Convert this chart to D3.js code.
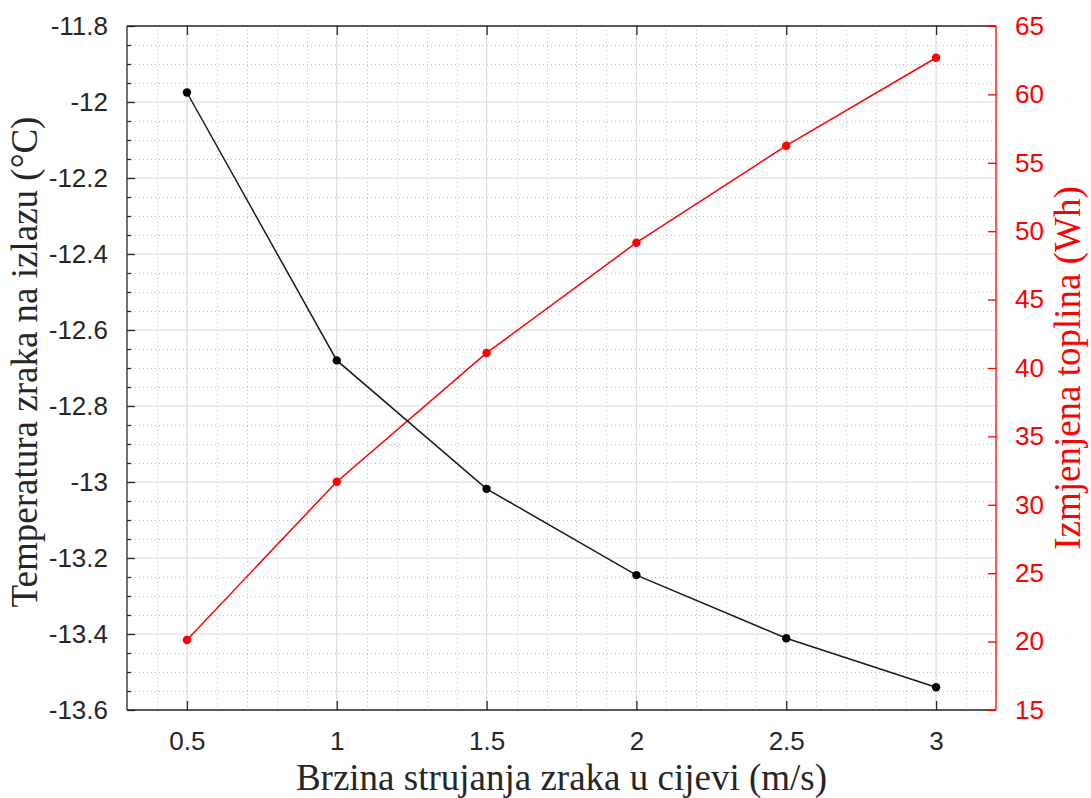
<!DOCTYPE html>
<html>
<head>
<meta charset="utf-8">
<script src="https://cdn.jsdelivr.net/npm/d3@7"></script>
<style>
  body { margin:0; background:#fff; }
  svg { display:block; }
  .tick text { font-family:"Liberation Sans", Arial, sans-serif; font-size:26px; }
  .lbl { font-family:"Liberation Serif", "Times New Roman", serif; font-size:37px; }
</style>
</head>
<body>
<div id="chart"></div>
<script>
// brzina strujanja (m/s)
var speed     = [0.5, 1, 1.5, 2, 2.5, 3];
// temperatura zraka na izlazu (°C)
var tempOut   = [-11.975, -12.68, -13.018, -13.245, -13.411, -13.54];
// izmjenjena toplina (Wh)
var heat      = [20.12, 31.69, 41.1, 49.16, 56.25, 62.68];

var xTicks    = [0.5, 1, 1.5, 2, 2.5, 3];
var yTicks    = [-11.8, -12, -12.2, -12.4, -12.6, -12.8, -13, -13.2, -13.4, -13.6];
var y2Ticks   = [15, 20, 25, 30, 35, 40, 45, 50, 55, 60, 65];

var W = 1091, H = 798;
var pL = 127, pR = 996, pT = 26, pB = 710;
var axisCol = "#262626", red = "#ff0000";

var svg = d3.select("#chart").append("svg").attr("width", W).attr("height", H);

var x  = d3.scaleLinear().domain([0.3, 3.2]).range([pL, pR]);
var y  = d3.scaleLinear().domain([-13.6, -11.8]).range([pB, pT]);
var y2 = d3.scaleLinear().domain([15, 65]).range([pB, pT]);

// minor grid (dotted)
var xMinor = d3.range(4, 32).map(function(d){ return d/10; }).filter(function(d){ return Math.abs(d*2 - Math.round(d*2)) > 1e-6; });
var yMinor = d3.range(0, 37).map(function(d){ return -11.8 - d*0.05; }).filter(function(d){ return Math.abs(d*5 - Math.round(d*5)) > 1e-6; });

var grid = svg.append("g");
grid.selectAll(".xm").data(xMinor).enter().append("line")
  .attr("x1", function(d){ return Math.round(x(d))+0.5; })
  .attr("x2", function(d){ return Math.round(x(d))+0.5; })
  .attr("y1", pT).attr("y2", pB)
  .attr("stroke", "#bdbdbd").attr("stroke-width", 1).attr("stroke-dasharray", "1,3");
grid.selectAll(".ym").data(yMinor).enter().append("line")
  .attr("y1", function(d){ return Math.round(y(d))+0.5; })
  .attr("y2", function(d){ return Math.round(y(d))+0.5; })
  .attr("x1", pL).attr("x2", pR)
  .attr("stroke", "#bdbdbd").attr("stroke-width", 1).attr("stroke-dasharray", "1,3");
// major grid
grid.selectAll(".xM").data(xTicks).enter().append("line")
  .attr("x1", function(d){ return x(d); }).attr("x2", function(d){ return x(d); })
  .attr("y1", pT).attr("y2", pB)
  .attr("stroke", "#dcdcdc").attr("stroke-width", 1.2);
grid.selectAll(".yM").data(yTicks).enter().append("line")
  .attr("y1", function(d){ return y(d); }).attr("y2", function(d){ return y(d); })
  .attr("x1", pL).attr("x2", pR)
  .attr("stroke", "#dcdcdc").attr("stroke-width", 1.2);

// axes
var fmt = function(d){ return String(+d.toFixed(2)); };

var xAxis = svg.append("g").attr("transform", "translate(0," + pB + ")")
  .call(d3.axisBottom(x).tickValues(xTicks).tickSize(-9).tickPadding(22).tickFormat(fmt));
var xTop = svg.append("g").attr("transform", "translate(0," + pT + ")")
  .call(d3.axisTop(x).tickValues(xTicks).tickSize(-9).tickFormat(""));
var yAxis = svg.append("g").attr("transform", "translate(" + pL + ",0)")
  .call(d3.axisLeft(y).tickValues(yTicks).tickSize(-8).tickPadding(19).tickFormat(fmt));
var yMinorTicks = svg.append("g").attr("transform", "translate(" + pL + ",0)")
  .call(d3.axisLeft(y).tickValues(yMinor).tickSize(-4).tickFormat(""));
var y2Axis = svg.append("g").attr("transform", "translate(" + pR + ",0)")
  .call(d3.axisRight(y2).tickValues(y2Ticks).tickSize(-8).tickPadding(19).tickFormat(d3.format("d")));

[xAxis, xTop, yAxis, yMinorTicks].forEach(function(g){
  g.select(".domain").attr("stroke", axisCol).attr("stroke-width", 1.3);
  g.selectAll(".tick line").attr("stroke", axisCol).attr("stroke-width", 1.3);
  g.selectAll(".tick text").attr("fill", axisCol);
});
xTop.select(".domain").attr("d", "M" + pL + ",0H" + pR);
xAxis.select(".domain").attr("d", "M" + pL + ",0H" + pR);
yAxis.select(".domain").attr("d", "M0," + pT + "V" + pB);
yMinorTicks.select(".domain").remove();
y2Axis.select(".domain").attr("stroke", red).attr("stroke-width", 1.3).attr("d", "M0," + pT + "V" + pB);
y2Axis.selectAll(".tick line").attr("stroke", red).attr("stroke-width", 1.3);
y2Axis.selectAll(".tick text").attr("fill", red);

// series
var lineT = d3.line().x(function(d, i){ return x(speed[i]); }).y(function(d){ return y(d); });
var lineH = d3.line().x(function(d, i){ return x(speed[i]); }).y(function(d){ return y2(d); });

svg.append("path").datum(heat).attr("d", lineH)
  .attr("fill", "none").attr("stroke", red).attr("stroke-width", 1.5);
svg.selectAll(".mh").data(heat).enter().append("circle")
  .attr("cx", function(d, i){ return x(speed[i]); }).attr("cy", function(d){ return y2(d); })
  .attr("r", 4.2).attr("fill", red);

svg.append("path").datum(tempOut).attr("d", lineT)
  .attr("fill", "none").attr("stroke", "#1a1a1a").attr("stroke-width", 1.5);
svg.selectAll(".mt").data(tempOut).enter().append("circle")
  .attr("cx", function(d, i){ return x(speed[i]); }).attr("cy", function(d){ return y(d); })
  .attr("r", 4.2).attr("fill", "#000");

// labels
svg.append("text").attr("class", "lbl")
  .attr("x", (pL + pR) / 2).attr("y", 790)
  .attr("text-anchor", "middle").attr("fill", axisCol)
  .text("Brzina strujanja zraka u cijevi (m/s)");
svg.append("text").attr("class", "lbl")
  .attr("transform", "translate(37," + ((pT + pB) / 2 - 6) + ") rotate(-90)")
  .attr("text-anchor", "middle").attr("fill", axisCol)
  .text("Temperatura zraka na izlazu (°C)");
svg.append("text").attr("class", "lbl")
  .attr("transform", "translate(1080," + ((pT + pB) / 2) + ") rotate(-90)")
  .attr("text-anchor", "middle").attr("fill", red)
  .text("Izmjenjena toplina (Wh)");
</script>
</body>
</html>
